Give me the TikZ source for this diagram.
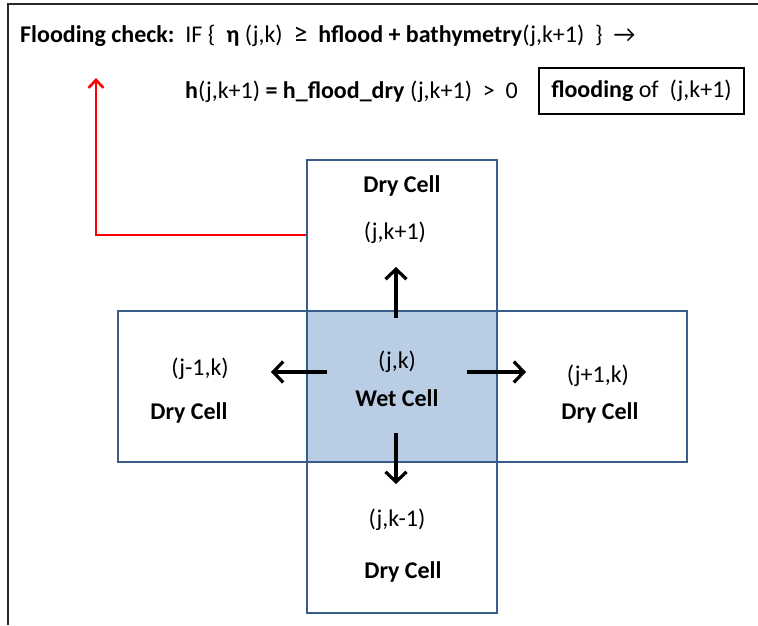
\documentclass[tikz,border=0pt]{standalone}
\usepackage{fontspec}
\setmainfont{Carlito}
\usetikzlibrary{arrows.meta}
\definecolor{cellblue}{RGB}{56,93,138}
\definecolor{wetfill}{RGB}{185,205,229}
\definecolor{framegray}{RGB}{40,40,40}
\begin{document}
\begin{tikzpicture}[x=1pt,y=-1pt,
  cellbox/.style={draw=cellblue,line width=2.4pt,rectangle,inner sep=0pt},
  lbl/.style={font=\fontsize{24}{28}\selectfont,inner sep=0pt},
  blbl/.style={font=\fontsize{24}{28}\selectfont\bfseries,inner sep=0pt},
  toptext/.style={font=\fontsize{24}{28}\selectfont,inner sep=0pt,anchor=base west},
  flow/.style={line width=3.2pt,-{Straight Barb[length=10pt,width=21pt,line width=3.2pt]}},
  redflow/.style={red,line width=2.8pt,-{Straight Barb[length=8pt,width=15pt,line width=2.6pt]}}
]
\useasboundingbox (0,0) rectangle (758,625);
\fill[white] (0,0) rectangle (758,625);
\draw[framegray,line width=2pt] (8,625) -- (8,4) -- (758,4);

% header text
\node[toptext] (check) at (20,42) {\textbf{Flooding check:}\ \ IF \{\ \ \textbf{η} (j,k)\ \ {\fontsize{28}{28}\selectfont ≥}\ \ \textbf{hflood + bathymetry}(j,k+1)\ \ \}\ \ →};
\node[toptext] (hrel) at (185,98) {\textbf{h}(j,k+1) \textbf{= h\_flood\_dry} (j,k+1)\ \ >\ \ 0};
\node[draw,line width=2pt,minimum width=205pt,minimum height=46pt,inner sep=0pt,font=\fontsize{24}{28}\selectfont] (floodbox) at (641.5,91) {\textbf{flooding} of\ \ (j,k+1)};

% cells
\node[fill=wetfill,minimum width=190pt,minimum height=151pt,inner sep=0pt] (wet) at (402,386.5) {};
\node[cellbox,minimum width=190pt,minimum height=453pt] (vcol) at (402,386.5) {};
\node[cellbox,minimum width=569pt,minimum height=151pt] (hrow) at (402.5,386.5) {};

% labels
\node[blbl] (topdry) at (402,186) {Dry Cell};
\node[lbl] (topid) at (395,233) {(j,k+1)};
\node[lbl] (leftid) at (200,369) {(j-1,k)};
\node[blbl] (leftdry) at (189,413) {Dry Cell};
\node[lbl] (rightid) at (598,376) {(j+1,k)};
\node[blbl] (rightdry) at (600,413) {Dry Cell};
\node[lbl] (wetid) at (397,362) {(j,k)};
\node[blbl] (wetlbl) at (397,398) {Wet Cell};
\node[lbl] (botid) at (397,520) {(j,k-1)};
\node[blbl] (botdry) at (403,572) {Dry Cell};

% arrows
\coordinate (upS) at (396,318);   \coordinate (upE) at (396,267);
\coordinate (leftS) at (327,372); \coordinate (leftE) at (271,372);
\coordinate (rightS) at (467,372);\coordinate (rightE) at (526,372);
\coordinate (downS) at (396,433); \coordinate (downE) at (396,484);
\draw[flow] (upS) -- (upE);
\draw[flow] (leftS) -- (leftE);
\draw[flow] (rightS) -- (rightE);
\draw[flow] (downS) -- (downE);

% red feedback connector
\coordinate (redtip) at (96,78);
\draw[redflow] (vcol.west |- 0,235) -| (redtip);
\end{tikzpicture}
\end{document}
